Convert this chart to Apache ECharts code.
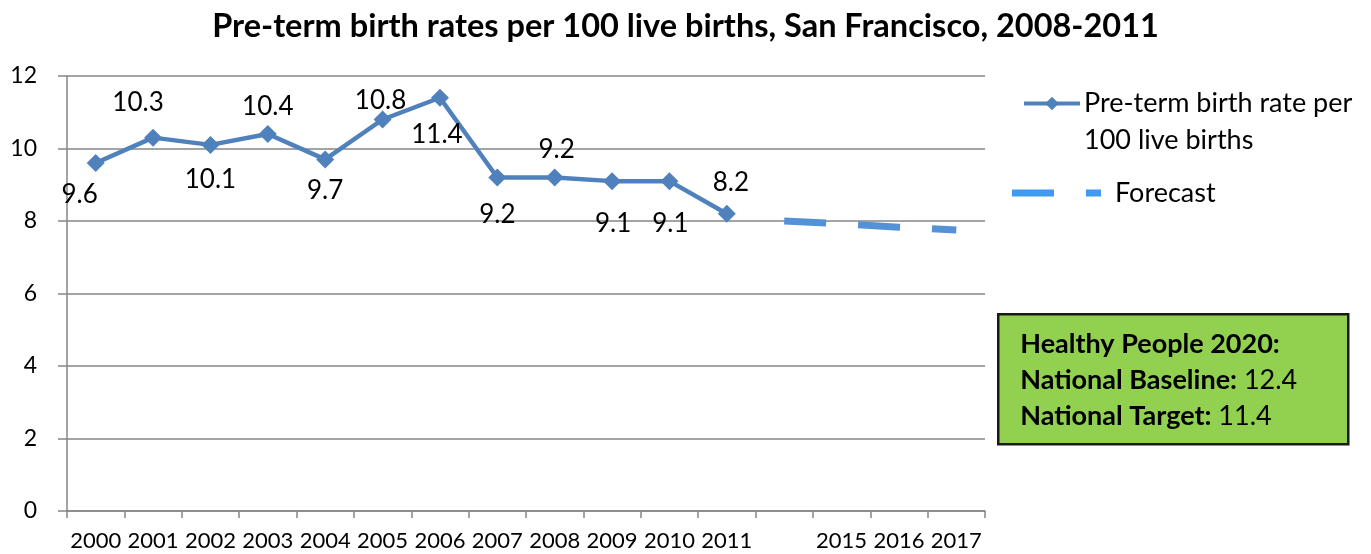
<!DOCTYPE html>
<html>
<head>
<meta charset="utf-8">
<script src="https://cdn.jsdelivr.net/npm/echarts@6/dist/echarts.min.js"></script>
<style>
  html, body { margin: 0; padding: 0; background: #fff; }
  #chart { width: 1371px; height: 554px; }
</style>
</head>
<body>
<div id="chart"></div>
<script>
/**************************data**************************/
var years = ['2000', '2001', '2002', '2003', '2004', '2005', '2006', '2007',
             '2008', '2009', '2010', '2011', '', '2015', '2016', '2017'];
var rates = [9.6, 10.3, 10.1, 10.4, 9.7, 10.8, 11.4, 9.2, 9.2, 9.1, 9.1, 8.2,
             null, null, null, null];
var forecast = [null, null, null, null, null, null, null, null, null, null, null, null,
                8.0, 7.92, 7.83, 7.75];
var yTicks = { min: 0, max: 12, step: 2 };

// where each value label sits round its point (styling only)
var labelOffsets = [[-16, 32], [-15, -35], [0, 35], [0, -27], [0, 31], [-2, -19],
                    [-3, 37], [0, 37], [2, -28], [1, 42], [1, 42], [4, -31]];

var FONT = 'Lato';
var lineColor = '#4f81bd';
var gridColor = '#868686';

chartDom = document.getElementById('chart');
myChart = echarts.init(chartDom);

optionChart = {
    animation: false,
    title: {
        text: 'Pre-term birth rates per 100 live births, San Francisco, 2008-2011',
        left: 'center',
        top: 5,
        textStyle: { fontFamily: FONT, fontSize: 32.5, fontWeight: 'bold', color: '#000' }
    },
    legend: [
        {
            data: ['Pre-term birth rate per 100 live births'],
            left: 1022,
            top: 48,
            padding: 0,
            itemWidth: 56,
            itemHeight: 17,
            lineStyle: { width: 4 },
            formatter: function (name) { return '\n' + name.replace(' 100', '\n100'); },
            textStyle: { fontFamily: FONT, fontSize: 27, color: '#000', lineHeight: 37, padding: [0, 0, 0, -1] }
        },
        {
            data: [{
                name: 'Forecast',
                icon: 'path://M0,0H42V7H0Z M74,0H89V7H74Z',
                itemStyle: { color: '#3f9bef' }
            }],
            left: 1012,
            top: 178,
            padding: 0,
            itemWidth: 89,
            itemHeight: 7,
            textStyle: { fontFamily: FONT, fontSize: 27, color: '#000', lineHeight: 30, padding: [0, 0, 0, 9] }
        }
    ],
    grid: { left: 67, right: 386, top: 76, bottom: 43 },
    xAxis: {
        type: 'category',
        data: years,
        boundaryGap: true,
        axisLine: { lineStyle: { color: gridColor, width: 1.5 } },
        axisTick: { show: true, interval: 0, length: 7, lineStyle: { color: gridColor, width: 1.5 } },
        axisLabel: { interval: 0, color: '#000', fontFamily: FONT, fontSize: 22, margin: 19 }
    },
    yAxis: {
        type: 'value',
        min: yTicks.min,
        max: yTicks.max,
        interval: yTicks.step,
        axisLine: { show: true, lineStyle: { color: gridColor, width: 1.5 } },
        axisTick: { show: true, length: 9, lineStyle: { color: gridColor, width: 1.5 } },
        axisLabel: { color: '#000', fontFamily: FONT, fontSize: 23, margin: 30 },
        splitLine: { lineStyle: { color: gridColor, width: 1.5 } }
    },
    series: [
        {
            name: 'Pre-term birth rate per 100 live births',
            type: 'line',
            data: rates.map(function (v, i) {
                return {
                    value: v,
                    label: { offset: labelOffsets[i] || [0, 0] }
                };
            }),
            symbol: 'diamond',
            symbolSize: 18,
            color: lineColor,
            lineStyle: { color: lineColor, width: 4.5 },
            itemStyle: { color: lineColor },
            label: {
                show: true,
                position: 'inside',
                color: '#000',
                fontFamily: FONT,
                fontSize: 26
            },
            z: 3
        },
        {
            name: 'Forecast',
            type: 'line',
            data: forecast,
            symbol: 'none',
            color: '#5491d6',
            lineStyle: { color: '#5491d6', width: 7, type: [42, 32] },
            z: 2
        }
    ],
    graphic: [
        {
            type: 'group',
            left: 997,
            top: 313,
            children: [
                {
                    type: 'rect',
                    shape: { x: 0, y: 0, width: 350, height: 130 },
                    style: { fill: '#92d050', stroke: '#1a1a1a', lineWidth: 2.5 }
                },
                {
                    type: 'text',
                    x: 22,
                    y: 12,
                    style: {
                        text: '{b|Healthy People 2020:}\n{b|National Baseline:} {n|12.4}\n{b|National Target:} {n|11.4}',
                        fontFamily: FONT,
                        fontSize: 27,
                        lineHeight: 36,
                        fill: '#000',
                        rich: {
                            b: { fontFamily: FONT, fontSize: 27, fontWeight: 'bold', lineHeight: 36 },
                            n: { fontFamily: FONT, fontSize: 27, lineHeight: 36 }
                        }
                    }
                }
            ]
        }
    ]
};

myChart.setOption(optionChart);
</script>
</body>
</html>
